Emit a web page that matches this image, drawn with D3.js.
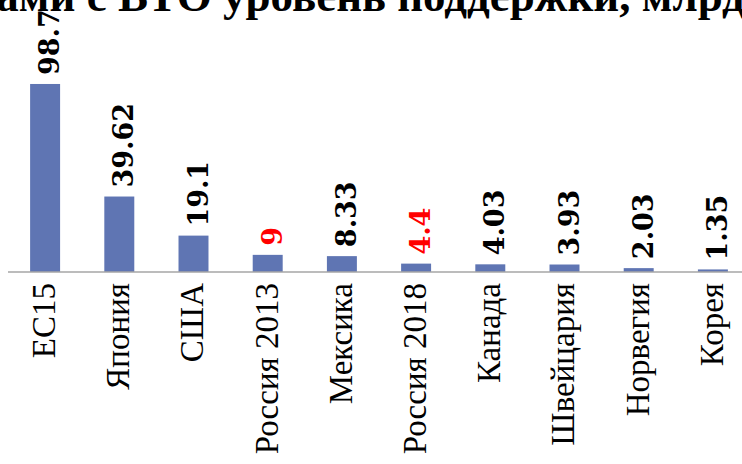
<!DOCTYPE html>
<html><head><meta charset="utf-8">
<script src="https://cdn.jsdelivr.net/npm/d3@7"></script>
<style>html,body{margin:0;padding:0;background:#fff;overflow:hidden}</style>
</head><body><svg id="c" width="742" height="464"></svg>
<script>
const categories = ["ЕС15","Япония","США","Россия 2013","Мексика","Россия 2018","Канада","Швейцария","Норвегия","Корея"];
const values = [98.7, 39.62, 19.1, 9, 8.33, 4.4, 4.03, 3.93, 2.03, 1.35];
const valueLabels = ["98.7","39.62","19.1","9","8.33","4.4","4.03","3.93","2.03","1.35"];
const highlighted = ["Россия 2013","Россия 2018"];
const title = "Согласованный странами с ВТО уровень поддержки, млрд долл.";

const svg = d3.select("#c");
const x = d3.scaleBand().domain(categories).range([8, 750]).paddingInner(0.596).paddingOuter(0.298);
const y = d3.scaleLinear().domain([0, 100]).range([272, 81.5]);

// bars
svg.append("g").selectAll("rect").data(values).join("rect")
  .attr("x", (d,i) => x(categories[i]))
  .attr("width", x.bandwidth())
  .attr("y", d => y(d))
  .attr("height", d => y(0) - y(d))
  .attr("fill", "#5f75b3");

// axis
const ax = svg.append("g").attr("transform", `translate(0,${y(0)})`)
  .call(d3.axisBottom(x).tickSize(0).tickPadding(0));
ax.select(".domain").attr("d", "M8,0H742").attr("stroke", "#a6a6a6").attr("stroke-width", 1.6);
ax.selectAll(".tick text")
  .attr("transform", "rotate(-90)")
  .attr("text-anchor", "end")
  .attr("x", -11).attr("y", 0).attr("dy", "0.3em")
  .style("font-family", "'Liberation Serif', serif")
  .style("font-size", "33px")
  .attr("fill", "#000");

// data labels
svg.append("g").selectAll("text").data(values).join("text")
  .attr("transform", (d,i) => `translate(${x(categories[i]) + x.bandwidth()/2 + 14},${y(d) - 9}) rotate(-90)`)
  .attr("text-anchor", "start")
  .style("font-family", "'DejaVu Serif', serif")
  .style("font-weight", "bold")
  .style("font-size", "27px")
  .attr("fill", (d,i) => highlighted.includes(categories[i]) ? "#ff0000" : "#000")
  .text((d,i) => valueLabels[i]);

// title (cut off at the top/left as in the reference)
const t = svg.append("text")
  .attr("y", 11)
  .style("font-family", "'Liberation Serif', serif")
  .style("font-weight", "bold")
  .style("font-size", "45px")
  .attr("fill", "#000")
  .text(title);
const idx = title.indexOf("уровень");
const off = t.node().getSubStringLength(0, idx);
t.attr("x", 223 - off);
</script></body></html>
